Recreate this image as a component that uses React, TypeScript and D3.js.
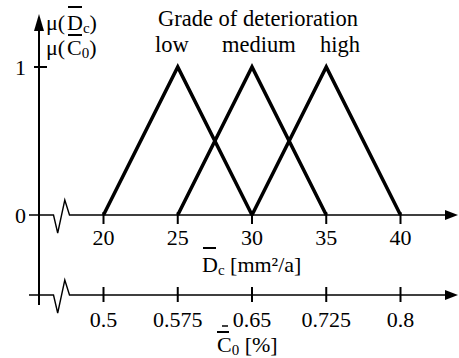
import React, { useEffect, useRef } from 'react';
import * as d3 from 'd3';

// membership functions: grade -> [start, peak, end] on the D_c axis
const grades = ['low', 'medium', 'high'];
const gradeStart = [20, 25, 30];
const gradePeak = [25, 30, 35];
const gradeEnd = [30, 35, 40];

const dcTicks = [20, 25, 30, 35, 40];
const c0Ticks = [0.5, 0.575, 0.65, 0.725, 0.8];
const c0TickLabels = ['0.5', '0.575', '0.65', '0.725', '0.8'];
const muTicks = [0, 1];

const W = 459;
const H = 358;
const FONT = "'Liberation Serif'";

const x = d3.scaleLinear().domain([20, 40]).range([103.5, 400.5]);
const xc = d3.scaleLinear().domain([0.5, 0.8]).range([103.5, 400.5]);
const y = d3.scaleLinear().domain([0, 1]).range([215, 67]);
const y2 = 295;
const axisX = 39;

const tri = d3.line<[number, number]>()
  .x((d) => x(d[0]))
  .y((d) => y(d[1]));

// horizontal axis line with a break zigzag near the vertical axis
const brokenAxis = (yy: number) =>
  d3.line()([
    [29, yy],
    [53.5, yy],
    [57.7, yy + 18],
    [64.8, yy - 15],
    [69.5, yy],
    [446, yy],
  ]) as string;

const gradeLabelX = [155, 222, 320];

const T = (props: any) => <text fontSize={22} {...props} />;

const App = () => {
  const svgRef = useRef<SVGSVGElement>(null);

  useEffect(() => {
    // force the serif face on every text node
    d3.select(svgRef.current)
      .selectAll('text, tspan')
      .style('font-family', FONT, 'important');
  }, []);

  return (
    <svg
      ref={svgRef}
      width={W}
      height={H}
      style={{ position: 'absolute', left: 0, top: 0, background: '#fff' }}
    >
      <style>{`text, tspan { font-family: ${FONT} !important; }`}</style>
      {[y(0), y2].map((yy) => (
        <g key={yy}>
          <path d={brokenAxis(yy)} fill="none" stroke="#000" strokeWidth={1.4} />
          <path d={`M458,${yy} L445,${yy - 5} L445,${yy + 5} Z`} fill="#000" />
        </g>
      ))}

      {/* vertical axis */}
      <line x1={axisX} x2={axisX} y1={305} y2={28} stroke="#000" strokeWidth={2} />
      <path d={`M${axisX},14 L${axisX - 5},31 L${axisX + 5},31 Z`} fill="#000" />

      {muTicks.filter((d) => d > 0).map((d) => (
        <line key={d} x1={34} x2={47} y1={y(d)} y2={y(d)} stroke="#000" strokeWidth={2} />
      ))}
      {muTicks.map((d) => (
        <T key={d} x={20.5} y={y(d) + 8} textAnchor="middle">
          {d}
        </T>
      ))}

      {dcTicks.map((d) => (
        <g key={d}>
          <line x1={x(d)} x2={x(d)} y1={y(0) - 3} y2={y(0) + 9} stroke="#000" strokeWidth={2} />
          <T x={x(d)} y={245} textAnchor="middle">
            {d}
          </T>
        </g>
      ))}

      {c0Ticks.map((d, i) => (
        <g key={d}>
          <line x1={xc(d)} x2={xc(d)} y1={y2 - 8} y2={y2 + 7} stroke="#000" strokeWidth={2} />
          <T x={xc(d)} y={326.5} textAnchor="middle">
            {c0TickLabels[i]}
          </T>
        </g>
      ))}

      {grades.map((name, i) => (
        <path
          key={name}
          d={tri([[gradeStart[i], 0], [gradePeak[i], 1], [gradeEnd[i], 0]]) as string}
          fill="none"
          stroke="#000"
          strokeWidth={3.5}
        />
      ))}

      <T x={258} y={26} textAnchor="middle" fontSize={22.5}>
        Grade of deterioration
      </T>
      {grades.map((name, i) => (
        <T key={name} x={gradeLabelX[i]} y={52} fontSize={22.5}>
          {name}
        </T>
      ))}

      {/* μ(D̄c) and μ(C̄0) */}
      <T x={46} y={30}>
        μ(<tspan x={67}>D</tspan>
        <tspan fontSize={15} dy={3}>c</tspan>
        <tspan dy={-3}>)</tspan>
      </T>
      <line x1={68} x2={82} y1={7} y2={7} stroke="#000" strokeWidth={2} />
      <T x={46} y={55}>
        μ(<tspan x={67}>C</tspan>
        <tspan fontSize={15} dy={3}>0</tspan>
        <tspan dy={-3}>)</tspan>
      </T>
      <line x1={68} x2={82} y1={35} y2={35} stroke="#000" strokeWidth={2} />

      {/* axis titles */}
      <T x={202} y={272}>
        D<tspan fontSize={15} dy={3}>c</tspan>
        <tspan dy={-3}> [mm²/a]</tspan>
      </T>
      <line x1={203} x2={216} y1={248} y2={248} stroke="#000" strokeWidth={2} />
      <T x={217} y={352}>
        C<tspan fontSize={15} dy={3}>0</tspan>
        <tspan dy={-3}> [%]</tspan>
      </T>
      <line x1={217} x2={229} y1={332} y2={332} stroke="#000" strokeWidth={2} />

      {/* small stray stroke next to 0.575 */}
      <line x1={222} x2={228} y1={326} y2={326} stroke="#000" strokeWidth={1.5} />
    </svg>
  );
};

export default App;
